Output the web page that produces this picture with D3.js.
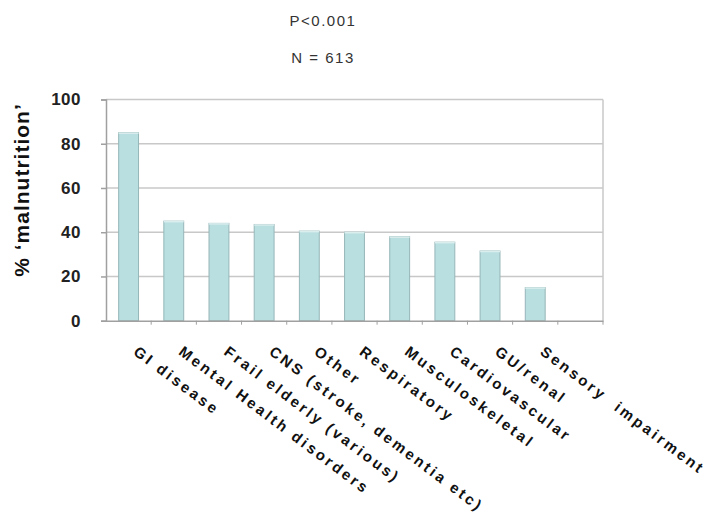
<!DOCTYPE html>
<html><head><meta charset="utf-8">
<script src="https://cdn.jsdelivr.net/npm/d3@7"></script>
<style>body{margin:0;background:#fff}svg{display:block}</style>
</head><body>
<script>
const categories = ["GI disease","Mental Health disorders","Frail elderly (various)","CNS (stroke, dementia etc)","Other","Respiratory","Musculoskeletal","Cardiovascular","GU/renal","Sensory  impairment",""];
const values = [85,45,44,43.5,40.5,40,38,35.5,31.5,15,null];
const yTicks = [0,20,40,60,80,100];
const titleLines = ["P<0.001","N = 613"];
const yLabel = "% ‘malnutrition’";

const W=711,H=519;
const FONT="Liberation Sans, Arial, sans-serif";
const svg=d3.select("body").append("svg").attr("width",W).attr("height",H);
const m={l:106,r:603,t:99.5,b:320.7};
const x=d3.scaleBand().domain(categories).range([m.l,m.r]).paddingInner(0).paddingOuter(0);
const y=d3.scaleLinear().domain([0,100]).range([m.b,m.t]);

// gridlines
svg.append("g").selectAll("line").data(yTicks.filter(d=>d>0)).join("line")
 .attr("x1",m.l).attr("x2",m.r).attr("y1",d=>y(d)).attr("y2",d=>y(d))
 .attr("stroke","#c8c8c8").attr("stroke-width",1.5);
// right border
svg.append("line").attr("x1",m.r).attr("x2",m.r).attr("y1",m.t).attr("y2",m.b).attr("stroke","#c8c8c8").attr("stroke-width",1.5);

// bars
const bw=x.bandwidth()*0.44;
const bars=svg.append("g").selectAll("g").data(categories.map((c,i)=>({c,v:values[i]})).filter(d=>d.v!=null)).join("g");
bars.append("rect")
 .attr("x",d=>x(d.c)+x.bandwidth()/2-bw/2).attr("width",bw)
 .attr("y",d=>y(d.v)).attr("height",d=>y(0)-y(d.v))
 .attr("fill","#b9dfe1").attr("stroke","#96b6b8").attr("stroke-width",1);
bars.append("line")
 .attr("x1",d=>x(d.c)+x.bandwidth()/2-bw/2).attr("x2",d=>x(d.c)+x.bandwidth()/2+bw/2)
 .attr("y1",d=>y(d.v)+0.5).attr("y2",d=>y(d.v)+0.5).attr("stroke","#dbeeee").attr("stroke-width",1.5);

// y axis
const ya=svg.append("g").attr("transform",`translate(${m.l},0)`)
 .call(d3.axisLeft(y).tickValues(yTicks).tickSize(5).tickPadding(20));
ya.select(".domain").attr("stroke","#a0a0a0").attr("stroke-width",1.5);
ya.selectAll(".tick line").attr("stroke","#a0a0a0").attr("stroke-width",1.5);
ya.selectAll(".tick text").attr("font-family",FONT).attr("font-size",17).attr("font-weight","bold")
 .attr("letter-spacing",0.5).attr("fill","#222");

// x axis
const xa=svg.append("g").attr("transform",`translate(0,${m.b})`)
 .call(d3.axisBottom(x).tickSize(0).tickFormat(""));
xa.select(".domain").attr("stroke","#a0a0a0").attr("stroke-width",1.5);
// tick marks at band boundaries
svg.append("g").selectAll("line").data(categories).join("line")
 .attr("x1",d=>x(d)+x.bandwidth()).attr("x2",d=>x(d)+x.bandwidth())
 .attr("y1",m.b).attr("y2",m.b+4).attr("stroke","#a0a0a0").attr("stroke-width",1);

// x labels
svg.append("g").selectAll("text").data(categories).join("text")
 .attr("transform",d=>`translate(${x(d)+x.bandwidth()/2+4},${m.b+33}) rotate(37)`)
 .attr("font-family",FONT).attr("font-size",15).attr("font-weight","bold").attr("letter-spacing",2.8)
 .attr("fill","#111").style("white-space","pre").text(d=>d);

// y label
svg.append("text").attr("transform","translate(29,190) rotate(-90)").attr("text-anchor","middle")
 .attr("font-family",FONT).attr("font-size",21).attr("font-weight","bold").attr("letter-spacing",1)
 .attr("fill","#111").text(yLabel);

// titles
svg.append("g").selectAll("text").data(titleLines).join("text")
 .attr("x",323).attr("y",(d,i)=>26+i*37).attr("text-anchor","middle")
 .attr("font-family",FONT).attr("font-size",15).attr("letter-spacing",1.5).attr("fill","#333").text(d=>d);
</script>
</body></html>
